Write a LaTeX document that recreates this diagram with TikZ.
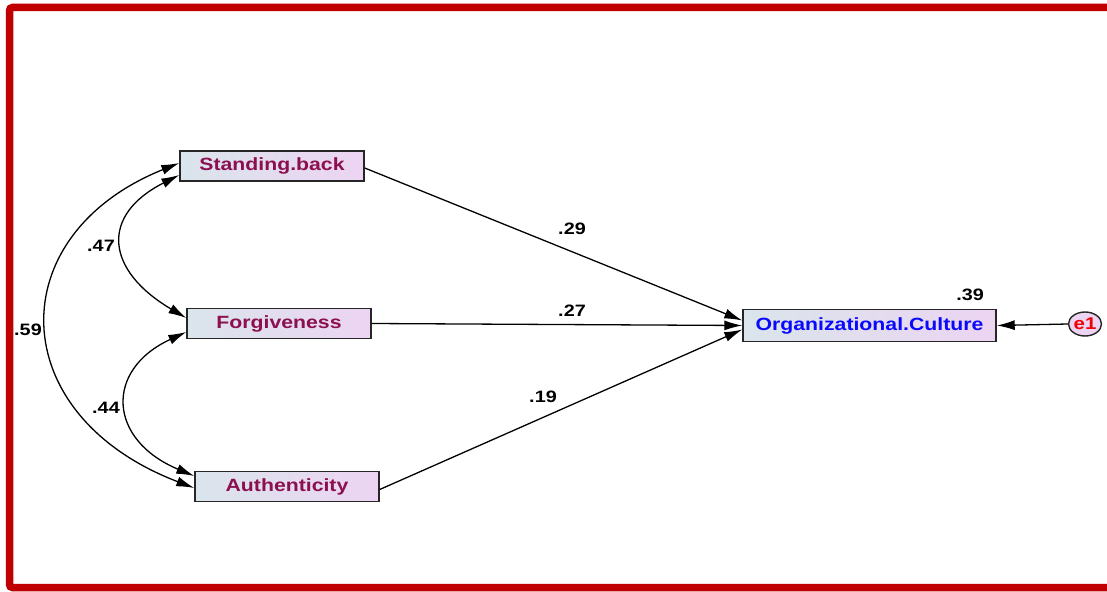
\documentclass[tikz,border=0pt]{standalone}
\usepackage{fontspec}
\setmainfont{Liberation Sans}
\usetikzlibrary{arrows.meta,shapes.geometric}
\definecolor{frame}{RGB}{192,0,0}
\definecolor{maroon}{RGB}{140,16,80}
\definecolor{ocblue}{RGB}{10,10,250}
\definecolor{ered}{RGB}{240,0,0}
\definecolor{lcol}{RGB}{218,229,236}
\definecolor{rcol}{RGB}{236,212,242}
\newcommand{\sx}[1]{\scalebox{1.2}[1]{#1}}
\tikzset{
  obs/.style={draw=black!85, line width=1.4pt, rectangle, inner sep=0pt,
    left color=lcol, right color=rcol, shading angle=90,
    font=\fontsize{17.7}{20}\selectfont\bfseries},
  err/.style={draw=black!85, line width=1.4pt, ellipse, inner sep=0pt,
    fill=rcol, minimum width=33pt, minimum height=24pt,
    font=\fontsize{17}{20}\selectfont\bfseries, text=ered},
  lab/.style={font=\fontsize{16.5}{20}\selectfont\bfseries, text=black},
  path/.style={line width=1.3pt, -{Latex[length=18pt,width=10pt]}},
  cov/.style={line width=1.3pt, {Latex[length=18pt,width=10pt]}-{Latex[length=18pt,width=10pt]}}
}
\begin{document}
\begin{tikzpicture}[x=1pt,y=-1pt]
\useasboundingbox (0,0) rectangle (1107,591);
\clip (0,0) rectangle (1107,591);
\fill[white] (0,0) rectangle (1107,591);
\draw[frame, line width=7.5pt, rounded corners=3pt] (9.5,7.5) rectangle (1130,587.5);

\node[obs, minimum width=184pt, minimum height=30pt, text=maroon] (sb) at (272,166) {\sx{Standing.back}};
\node[obs, minimum width=184pt, minimum height=30pt, text=maroon] (fg) at (279,323.5) {\sx{Forgiveness}};
\node[obs, minimum width=184pt, minimum height=30pt, text=maroon] (au) at (287,486.5) {\sx{Authenticity}};
\node[obs, minimum width=253pt, minimum height=32pt, text=ocblue] (oc) at (869.5,325.5) {\sx{Organizational.Culture}};
\node[err] (e1) at (1085,324) {\sx{e1}};

\draw[path] ([yshift=-2pt]sb.east) -- ([yshift=5pt]oc.west);
\draw[path] (fg.east) -- (oc.west);
\draw[path] ([yshift=-3pt]au.east) -- ([yshift=-4pt]oc.west);
\draw[path] (e1.west) -- (oc.east);

\draw[cov] ([yshift=-9pt]sb.west) .. controls (100,215) and (105,270) .. ([yshift=5.5pt]fg.west);
\draw[cov] ([yshift=-8.5pt]fg.west) .. controls (104,370) and (108,440) .. ([yshift=10.5pt]au.west);
\draw[cov] ([yshift=3pt]sb.west) .. controls (0,235) and (3,415) .. ([yshift=-1.5pt]au.west);

\node[lab] (l29) at (572,229) {\sx{.29}};
\node[lab] (l27) at (572,311) {\sx{.27}};
\node[lab] (l19) at (543,397) {\sx{.19}};
\node[lab] (l39) at (970,295) {\sx{.39}};
\node[lab] (l47) at (101,246) {\sx{.47}};
\node[lab] (l44) at (106,408) {\sx{.44}};
\node[lab] (l59) at (28,330) {\sx{.59}};
\end{tikzpicture}
\end{document}
